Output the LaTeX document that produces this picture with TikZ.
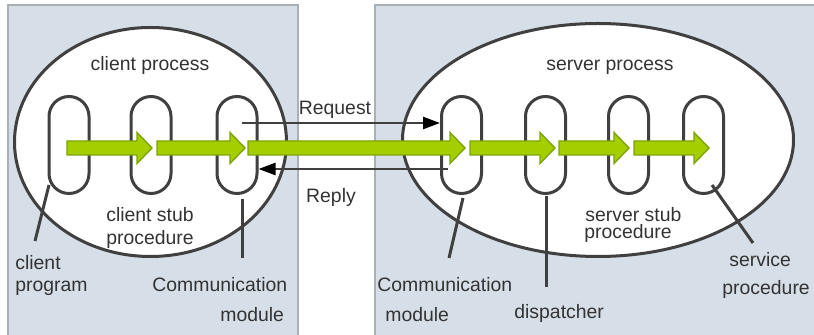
\documentclass[tikz,border=0pt]{standalone}
\usepackage{fontspec}
\setmainfont{Liberation Sans}
\usetikzlibrary{shapes.geometric,arrows.meta}
\definecolor{panelfill}{RGB}{214,222,231}
\definecolor{panelline}{RGB}{168,176,184}
\definecolor{ink}{RGB}{64,64,64}
\definecolor{txt}{RGB}{51,51,51}
\definecolor{gfill}{RGB}{165,206,0}
\definecolor{gline}{RGB}{125,165,0}
\tikzset{
  panel/.style={fill=panelfill,draw=panelline,line width=1.3pt},
  proc/.style={ellipse,draw=ink,fill=white,line width=1.5pt,inner sep=0pt},
  capsule/.style={rectangle,draw=ink,fill=white,line width=1.5pt,rounded corners=10pt,minimum width=20pt,minimum height=48.5pt,inner sep=0pt},
  flow/.style={fill=gfill,draw=gline,line width=0.7pt,line join=miter},
  msg/.style={draw=ink,line width=1.25pt,-{Triangle[length=8.5pt,width=6pt,color=black,fill=black]}},
  pointer/.style={draw=ink,line width=1.5pt},
  lbl/.style={text=txt,font=\fontsize{9.7}{11.5}\selectfont,inner sep=0pt,anchor=base},
}
\newcommand\flowarrow[3]{\draw[flow] (#1,{#3-7}) -- ({#2-15},{#3-7}) -- ({#2-15},{#3-15.5}) -- (#2,#3) -- ({#2-15},{#3+15.5}) -- ({#2-15},{#3+7}) -- (#1,{#3+7}) -- cycle;}
\begin{document}
\begin{tikzpicture}[x=0.5pt,y=-0.5pt]
\useasboundingbox (0,0) rectangle (814,335);
\fill[white] (0,0) rectangle (814,335);
% panels
\draw[panel] (8,5) rectangle (298,345);
\draw[panel] (375,5) rectangle (825,345);
% processes
\node[proc,minimum width=136pt,minimum height=114.5pt] (cproc) at (150.5,142) {};
\node[proc,minimum width=195.5pt,minimum height=116.5pt] (sproc) at (598,140) {};
\node[lbl] (cproclbl) at (150,71) {client process};
\node[lbl] (sproclbl) at (610,71) {server process};
% capsules
\node[capsule] (c1) at (69,145) {};
\node[capsule] (c2) at (151,145) {};
\node[capsule] (c3) at (237,145) {};
\node[capsule] (s1) at (461.5,145) {};
\node[capsule] (s2) at (545.5,145) {};
\node[capsule] (s3) at (628.5,145) {};
\node[capsule] (s4) at (703.5,145) {};
% request / reply
\coordinate (reqstart) at (242,123);
\coordinate (repstart) at (448,169);
\draw[msg] (reqstart) -- (reqstart -| s1.west);
\draw[msg] (repstart) -- (repstart -| c3.east);
\node[lbl] (reqlbl) at (335,115) {Request};
\node[lbl] (replbl) at (331,203) {Reply};
% green flow arrows
\flowarrow{67}{152}{148}
\flowarrow{157}{245}{148}
\flowarrow{248}{465}{148}
\flowarrow{470}{555}{148}
\flowarrow{559}{629}{148}
\flowarrow{634}{709}{148}
% labels
\node[lbl] (cstub1) at (150,222) {client stub};
\node[lbl] (cstub2) at (150,245) {procedure};
\node[lbl,anchor=base west] (sstub1) at (585,222) {server stub};
\node[lbl,anchor=base west] (sstub2) at (584,239) {procedure};
\node[lbl,anchor=base west] (prog1) at (15,270) {client};
\node[lbl,anchor=base west] (prog2) at (15,292) {program};
\node[lbl,anchor=base west] (ccomm1) at (152,292) {Communication};
\node[lbl,anchor=base west] (ccomm2) at (220,322) {module};
\node[lbl,anchor=base west] (scomm1) at (377,292) {Communication};
\node[lbl,anchor=base west] (scomm2) at (385,322) {module};
\node[lbl,anchor=base west] (disp) at (514,319) {dispatcher};
\node[lbl,anchor=base west] (serv1) at (729,267) {service};
\node[lbl,anchor=base west] (serv2) at (722,295) {procedure};
% pointer lines
\coordinate (p1a) at (49,185); \coordinate (p1b) at (35,241);
\coordinate (p2a) at (242,199); \coordinate (p2b) at (242,258);
\coordinate (p3a) at (463,198); \coordinate (p3b) at (449,258);
\coordinate (p4a) at (546,196); \coordinate (p4b) at (546,287);
\coordinate (p5a) at (712,185); \coordinate (p5b) at (753,243);
\draw[pointer] (p1a) -- (p1b);
\draw[pointer] (p2a) -- (p2b);
\draw[pointer] (p3a) -- (p3b);
\draw[pointer] (p4a) -- (p4b);
\draw[pointer] (p5a) -- (p5b);
\end{tikzpicture}
\end{document}
